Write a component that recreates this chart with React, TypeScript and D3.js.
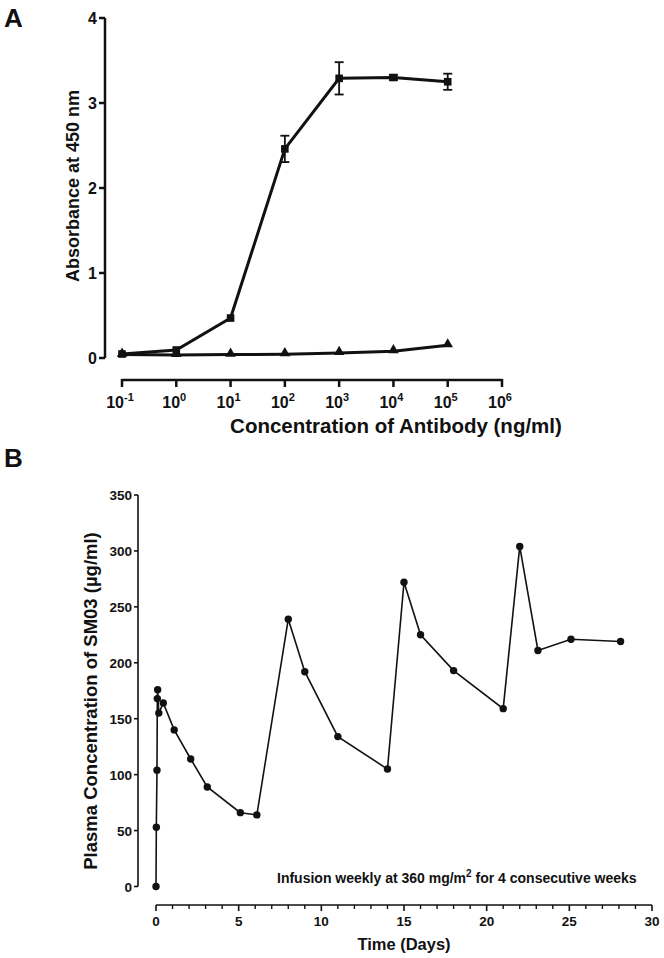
import React from "react";
import * as d3 from "d3";

// Panel A data
const concentrations = [0.1, 1, 10, 100, 1000, 10000, 100000];
const squareMeans = [0.047, 0.094, 0.47, 2.46, 3.29, 3.30, 3.25];
const squareErr = [0, 0, 0, 0.155, 0.19, 0.03, 0.095];
const triangleMeans = [0.04, 0.035, 0.04, 0.045, 0.06, 0.08, 0.15];
const aYTicks = [0, 1, 2, 3, 4];
const aXTickExps = [-1, 0, 1, 2, 3, 4, 5, 6];

// Panel B data
const days = [0, 0.02, 0.06, 0.08, 0.1, 0.17, 0.44, 1.1, 2.1, 3.1, 5.1, 6.1, 8.0, 9.0, 11.0, 14.0, 15.0, 16.0, 18.0, 21.0, 22.0, 23.1, 25.1, 28.1];
const plasma = [0, 53, 104, 168, 176, 155, 164, 140, 114, 89, 66, 64, 239, 192, 134, 105, 272, 225, 193, 159, 304, 211, 221, 219];
const bYTicks = [0, 50, 100, 150, 200, 250, 300, 350];
const bXTicks = [0, 5, 10, 15, 20, 25, 30];

const INK = "#111";
const FONT = "'Liberation Sans', Arial, sans-serif";

export default function App() {
  // Panel A scales
  const ax = d3.scaleLog().domain([0.1, 1e6]).range([122, 502]);
  const ay = d3.scaleLinear().domain([0, 4]).range([358, 18]);
  const aLine = d3.line<number>().x((_, i) => ax(concentrations[i])).y((d) => ay(d));

  // Panel B scales
  const bx = d3.scaleLinear().domain([0, 30]).range([156, 652]);
  const by = d3.scaleLinear().domain([0, 350]).range([886.5, 495]);
  const bLine = d3.line<number>().x((_, i) => bx(days[i])).y((d) => by(d));
  const minorB = d3.range(0, 31, 1).filter((v) => v % 5 !== 0);

  const tri = d3.symbol().type(d3.symbolTriangle).size(48)();

  return (
    <svg width={664} height={958} style={{ position: "absolute", left: 0, top: 0, background: "#fff" }} fontFamily={FONT}>
      <rect width={664} height={958} fill="#fff" />
      {/* Panel labels */}
      <text x={4} y={27} fontSize={26} fontWeight="bold" fill={INK}>A</text>
      <text x={4} y={467} fontSize={26} fontWeight="bold" fill={INK}>B</text>

      {/* ===== Panel A ===== */}
      <g>
        <line x1={105} x2={105} y1={ay(4)} y2={ay(0)} stroke={INK} strokeWidth={2.5} />
        {aYTicks.map((t) => (
          <g key={"ay" + t}>
            <line x1={99} x2={105} y1={ay(t)} y2={ay(t)} stroke={INK} strokeWidth={2.5} />
            <text x={97} y={ay(t) + 5.5} textAnchor="end" fontSize={16} fontWeight="bold" fill={INK}>{t}</text>
          </g>
        ))}
        <line x1={ax(0.1)} x2={ax(1e6)} y1={380} y2={380} stroke={INK} strokeWidth={2.5} />
        {aXTickExps.map((e) => {
          const x = ax(Math.pow(10, e));
          return (
            <g key={"ax" + e}>
              <line x1={x} x2={x} y1={379} y2={387} stroke={INK} strokeWidth={2.5} />
              <text x={x - 2} y={408} textAnchor="middle" fontSize={16} fontWeight="bold" fill={INK}>
                10<tspan dy={-7} fontSize={11}>{e === -1 ? "-1" : String(e)}</tspan>
              </text>
            </g>
          );
        })}
        <text x={396} y={433} textAnchor="middle" fontSize={20.5} fontWeight="bold" fill={INK}>
          Concentration of Antibody (ng/ml)
        </text>
        <text transform={`translate(79,186) rotate(-90)`} textAnchor="middle" fontSize={18} fontWeight="bold" fill={INK}>
          Absorbance at 450 nm
        </text>

        <path d={aLine(triangleMeans) || ""} fill="none" stroke={INK} strokeWidth={3} />
        {triangleMeans.map((v, i) => (
          <path key={"t" + i} d={tri} transform={`translate(${ax(concentrations[i])},${ay(v) - 1})`} fill={INK} />
        ))}
        <path d={aLine(squareMeans) || ""} fill="none" stroke={INK} strokeWidth={3} />
        {squareMeans.map((v, i) => {
          const x = ax(concentrations[i]);
          const e = squareErr[i];
          return (
            <g key={"s" + i}>
              {e > 0 && (
                <g stroke={INK} strokeWidth={1.8}>
                  <line x1={x} x2={x} y1={ay(v - e)} y2={ay(v + e)} />
                  <line x1={x - 4.5} x2={x + 4.5} y1={ay(v + e)} y2={ay(v + e)} />
                  <line x1={x - 4.5} x2={x + 4.5} y1={ay(v - e)} y2={ay(v - e)} />
                </g>
              )}
              <rect x={x - 3.8} y={ay(v) - 3.8} width={7.6} height={7.6} fill={INK} />
            </g>
          );
        })}
      </g>

      {/* ===== Panel B ===== */}
      <g>
        <line x1={138} x2={138} y1={by(350)} y2={by(0)} stroke={INK} strokeWidth={1.6} />
        {bYTicks.map((t) => (
          <g key={"by" + t}>
            <line x1={134} x2={138} y1={by(t)} y2={by(t)} stroke={INK} strokeWidth={1.6} />
            <text x={132} y={by(t) + 5} textAnchor="end" fontSize={13.5} fontWeight="bold" fill={INK}>{t}</text>
          </g>
        ))}
        <line x1={bx(0)} x2={bx(30)} y1={905} y2={905} stroke={INK} strokeWidth={1.6} />
        {bXTicks.map((t) => (
          <g key={"bx" + t}>
            <line x1={bx(t)} x2={bx(t)} y1={905} y2={911} stroke={INK} strokeWidth={1.6} />
            <text x={bx(t)} y={926} textAnchor="middle" fontSize={13.5} fontWeight="bold" fill={INK}>{t}</text>
          </g>
        ))}
        {minorB.map((t) => (
          <line key={"bm" + t} x1={bx(t)} x2={bx(t)} y1={905} y2={909} stroke={INK} strokeWidth={1.4} />
        ))}
        <text x={404} y={950} textAnchor="middle" fontSize={16.5} fontWeight="bold" fill={INK}>Time (Days)</text>
        <text transform={`translate(97,701) rotate(-90)`} textAnchor="middle" fontSize={18.5} fontWeight="bold" fill={INK}>
          Plasma Concentration of SM03 (µg/ml)
        </text>
        <text x={277} y={883} fontSize={14} fontWeight="bold" fill={INK}>
          Infusion weekly at 360 mg/m<tspan dy={-6} fontSize={10}>2</tspan><tspan dy={6}> for 4 consecutive weeks</tspan>
        </text>

        <path d={bLine(plasma) || ""} fill="none" stroke={INK} strokeWidth={1.6} />
        {plasma.map((v, i) => (
          <circle key={"p" + i} cx={bx(days[i])} cy={by(v)} r={3.7} fill={INK} />
        ))}
      </g>
    </svg>
  );
}
